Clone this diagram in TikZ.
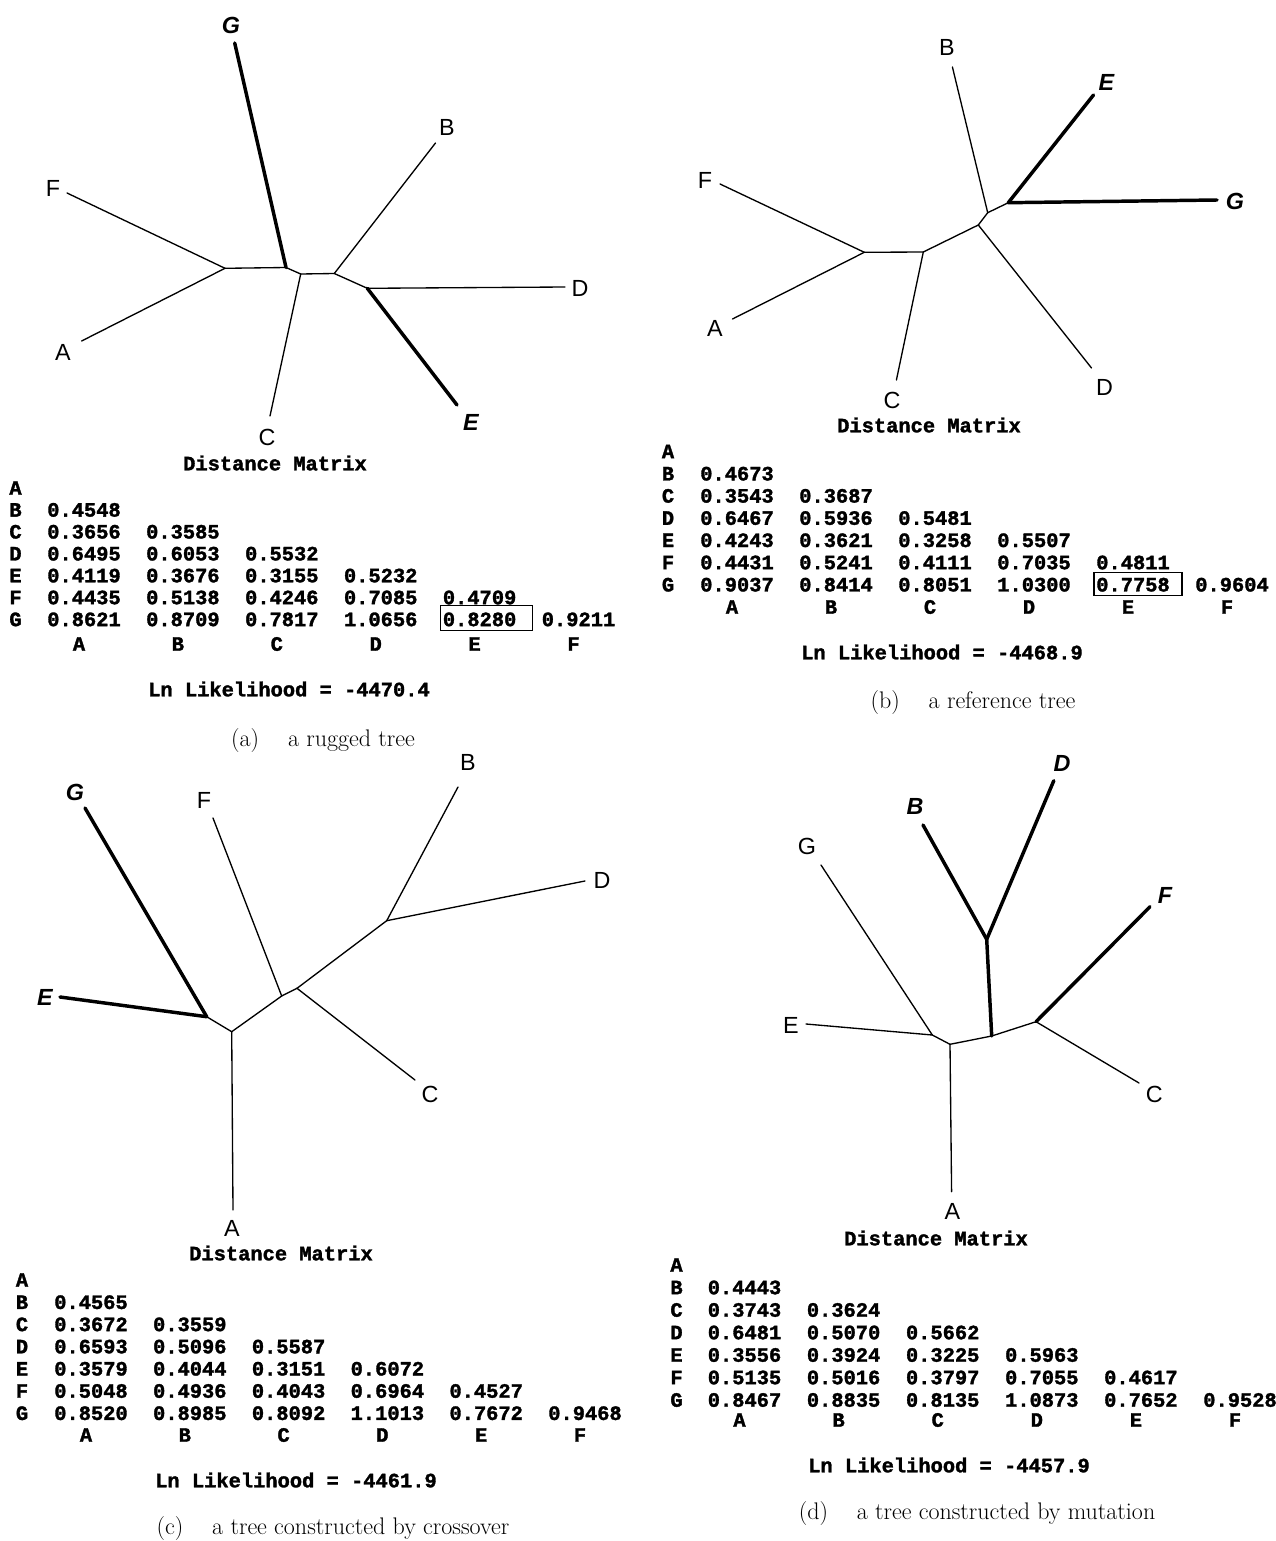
\documentclass[tikz,border=0pt]{standalone}
\usepackage{fontspec}
\setsansfont{Liberation Sans}
\newfontfamily\dmfam[BoldFeatures={FakeBold=1.6}]{Liberation Mono}
\usetikzlibrary{calc}
\newcommand\tlabfont{\fontsize{17.5}{17.5}\selectfont\sffamily}
\newcommand\dmfont{\fontsize{15.3}{16}\selectfont\dmfam\bfseries}
\newcommand\capfont{\fontsize{18}{20}\selectfont\rmfamily}
\tikzset{
 tlab/.style={font=\tlabfont, inner sep=0pt},
 tlabx/.style={font=\tlabfont\bfseries\itshape, inner sep=0pt},
 brn/.style={line width=1pt, line cap=round},
 brk/.style={line width=2.6pt, line cap=round},
 mono/.style={font=\dmfont, inner sep=0pt},
 capt/.style={font=\capfont, inner sep=0pt},
 hbox/.style={line width=0.8pt},
}
% #1 prefix, #2 row-label x, #3 first value x, #4 column pitch,
% #5 row A y, #6 row pitch, #7 column-label y, #8 values
\newcommand\dmatrix[8]{%
 \foreach \lab [count=\ii from 0] in {A,B,C,D,E,F,G}
   \node[mono] (#1r\lab) at (#2,{#5+\ii*#6}) {\lab};
 \foreach \vals [count=\ri from 1] in {#8} {
   \foreach \v [count=\ci from 0] in \vals
     \node[mono] (#1v\ri\ci) at ({#3+\ci*#4},{#5+\ri*#6}) {\v};
 }
 \foreach \lab [count=\ci from 0] in {A,B,C,D,E,F}
   \node[mono] (#1c\lab) at ({#3-5+\ci*#4},#7) {\lab};
}
\begin{document}
\begin{tikzpicture}[x=0.75pt,y=-0.75pt]
\fill[white] (0,0) rectangle (1276,1541);
\useasboundingbox (0,0) rectangle (1276,1541);

%% ---------------- (a) ----------------
\coordinate (aG) at (234.7,43);   \node[tlabx] (aGl) at (231,25) {G};
\coordinate (aF) at (67,193);     \node[tlab] (aFl) at (53,188) {F};
\coordinate (aA) at (81.6,341);   \node[tlab] (aAl) at (63,352) {A};
\coordinate (aC) at (270,416);    \node[tlab] (aCl) at (267,437) {C};
\coordinate (aB) at (435.5,143);  \node[tlab] (aBl) at (447,127) {B};
\coordinate (aD) at (565,287);    \node[tlab] (aDl) at (580,288) {D};
\coordinate (aE) at (457,405);    \node[tlabx] (aEl) at (471,422) {E};
\coordinate (a1) at (225,268.3);
\coordinate (a2) at (286,267.5);
\coordinate (a3) at (300.7,274);
\coordinate (a4) at (334.3,273.5);
\coordinate (a5) at (367.3,288.3);
\draw[brn] (a1) -- (aF);
\draw[brn] (a1) -- (aA);
\draw[brn] (a1) -- (a2);
\draw[brk] (a2) -- (aG);
\draw[brn] (a2) -- (a3);
\draw[brn] (a3) -- (aC);
\draw[brn] (a3) -- (a4);
\draw[brn] (a4) -- (aB);
\draw[brn] (a4) -- (a5);
\draw[brn] (a5) -- (aD);
\draw[brk] (a5) -- (aE);

\node[mono] (aTitle) at (275,463) {Distance Matrix};
\dmatrix{a}{15.5}{84}{98.9}{488}{21.9}{644}{{0.4548},{0.3656,0.3585},{0.6495,0.6053,0.5532},{0.4119,0.3676,0.3155,0.5232},{0.4435,0.5138,0.4246,0.7085,0.4709},{0.8621,0.8709,0.7817,1.0656,0.8280,0.9211}}
\draw[hbox] ($(av64.south west)+(-2,3.5)$) rectangle ($(av64.north east)+(16,-7)$);
\node[mono] (aLL) at (289,689) {Ln Likelihood = -4470.4};
\node[capt] (aCap) at (323,741) {(a)\hspace{0.9em} a rugged tree};

%% ---------------- (b) ----------------
\coordinate (bB) at (952.4,67);   \node[tlab] (bBl) at (947,47) {B};
\coordinate (bE) at (1093.5,95);  \node[tlabx] (bEl) at (1106.5,82) {E};
\coordinate (bG) at (1217,200);   \node[tlabx] (bGl) at (1235,201) {G};
\coordinate (bD) at (1091.5,368); \node[tlab] (bDl) at (1104.5,387) {D};
\coordinate (bC) at (896.4,380);  \node[tlab] (bCl) at (892,400) {C};
\coordinate (bF) at (720,184);    \node[tlab] (bFl) at (705,180) {F};
\coordinate (bA) at (732.5,319);  \node[tlab] (bAl) at (715,328) {A};
\coordinate (b1) at (864.3,252.3);
\coordinate (b2) at (923.3,252);
\coordinate (b3) at (978.3,225);
\coordinate (b4) at (987.7,212.7);
\coordinate (b5) at (1008.3,202.7);
\draw[brn] (b1) -- (bF);
\draw[brn] (b1) -- (bA);
\draw[brn] (b1) -- (b2);
\draw[brn] (b2) -- (bC);
\draw[brn] (b2) -- (b3);
\draw[brn] (b3) -- (bD);
\draw[brn] (b3) -- (b4);
\draw[brn] (b4) -- (bB);
\draw[brn] (b4) -- (b5);
\draw[brk] (b5) -- (bE);
\draw[brk] (b5) -- (bG);

\node[mono] (bTitle) at (929,425) {Distance Matrix};
\dmatrix{b}{668}{737}{99}{451.5}{22.2}{607}{{0.4673},{0.3543,0.3687},{0.6467,0.5936,0.5481},{0.4243,0.3621,0.3258,0.5507},{0.4431,0.5241,0.4111,0.7035,0.4811},{0.9037,0.8414,0.8051,1.0300,0.7758,0.9604}}
\draw[hbox] ($(bv64.south west)+(-2,3.5)$) rectangle ($(bv64.north east)+(12,-5)$);
\node[mono] (bLL) at (942,652) {Ln Likelihood = -4468.9};
\node[capt] (bCap) at (973,703) {(b)\hspace{0.9em} a reference tree};

%% ---------------- (c) ----------------
\coordinate (cG) at (85,808);     \node[tlabx] (cGl) at (75,792) {G};
\coordinate (cE) at (60,997);     \node[tlabx] (cEl) at (45,997) {E};
\coordinate (cF) at (213,818);    \node[tlab] (cFl) at (204,800) {F};
\coordinate (cB) at (458,787);    \node[tlab] (cBl) at (468,762) {B};
\coordinate (cD) at (585,881);    \node[tlab] (cDl) at (602,880) {D};
\coordinate (cC) at (415,1080);   \node[tlab] (cCl) at (430,1094) {C};
\coordinate (cA) at (233,1210);   \node[tlab] (cAl) at (232,1228) {A};
\coordinate (c1) at (206.7,1016.7);
\coordinate (c2) at (231.7,1031.7);
\coordinate (c3) at (281.7,996);
\coordinate (c4) at (297,988.3);
\coordinate (c5) at (386.7,920.7);
\draw[brk] (c1) -- (cG);
\draw[brk] (c1) -- (cE);
\draw[brn] (c1) -- (c2);
\draw[brn] (c2) -- (cA);
\draw[brn] (c2) -- (c3);
\draw[brn] (c3) -- (cF);
\draw[brn] (c3) -- (c4);
\draw[brn] (c4) -- (cC);
\draw[brn] (c4) -- (c5);
\draw[brn] (c5) -- (cB);
\draw[brn] (c5) -- (cD);

\node[mono] (cTitle) at (281,1253) {Distance Matrix};
\dmatrix{c}{22}{91}{98.8}{1280}{22.2}{1435}{{0.4565},{0.3672,0.3559},{0.6593,0.5096,0.5587},{0.3579,0.4044,0.3151,0.6072},{0.5048,0.4936,0.4043,0.6964,0.4527},{0.8520,0.8985,0.8092,1.1013,0.7672,0.9468}}
\node[mono] (cLL) at (296,1480) {Ln Likelihood = -4461.9};
\node[capt] (cCap) at (333,1528) {(c)\hspace{0.9em} a tree constructed by crossover};

%% ---------------- (d) ----------------
\coordinate (dD) at (1053.8,780.7); \node[tlabx] (dDl) at (1062,763) {D};
\coordinate (dB) at (923,825);      \node[tlabx] (dBl) at (915,806.7) {B};
\coordinate (dG) at (821,865);      \node[tlab] (dGl) at (807,846.7) {G};
\coordinate (dE) at (806,1024);     \node[tlab] (dEl) at (791,1025) {E};
\coordinate (dA) at (951.6,1191.7); \node[tlab] (dAl) at (952.4,1211.7) {A};
\coordinate (dF) at (1150,906.7);   \node[tlabx] (dFl) at (1165,895) {F};
\coordinate (dC) at (1139,1083);    \node[tlab] (dCl) at (1154.4,1094) {C};
\coordinate (d1) at (932.3,1035);
\coordinate (d2) at (950,1044.3);
\coordinate (d3) at (991.7,1036);
\coordinate (d4) at (986.7,939.3);
\coordinate (d5) at (1036,1021.7);
\draw[brn] (d1) -- (dG);
\draw[brn] (d1) -- (dE);
\draw[brn] (d1) -- (d2);
\draw[brn] (d2) -- (dA);
\draw[brn] (d2) -- (d3);
\draw[brk] (d3) -- (d4);
\draw[brk] (d4) -- (dB);
\draw[brk] (d4) -- (dD);
\draw[brn] (d3) -- (d5);
\draw[brk] (d5) -- (dF);
\draw[brn] (d5) -- (dC);

\node[mono] (dTitle) at (936,1238) {Distance Matrix};
\dmatrix{d}{676.5}{744.5}{99.1}{1265}{22.5}{1420}{{0.4443},{0.3743,0.3624},{0.6481,0.5070,0.5662},{0.3556,0.3924,0.3225,0.5963},{0.5135,0.5016,0.3797,0.7055,0.4617},{0.8467,0.8835,0.8135,1.0873,0.7652,0.9528}}
\node[mono] (dLL) at (949,1465) {Ln Likelihood = -4457.9};
\node[capt] (dCap) at (977,1513) {(d)\hspace{0.9em} a tree constructed by mutation};
\end{tikzpicture}
\end{document}
